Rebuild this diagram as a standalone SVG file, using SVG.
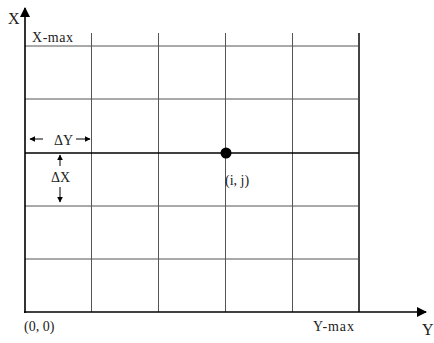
<svg xmlns="http://www.w3.org/2000/svg" width="434" height="343" viewBox="0 0 434 343">
<style>
text{font-family:"Liberation Serif","Times New Roman",serif;font-size:14px;fill:#222}
.big{font-size:16px}
.g{stroke:#555;stroke-width:1;fill:none}
.ax{stroke:#000;stroke-width:1.6;fill:none}
.sa{stroke:#000;stroke-width:1;fill:none}
</style>
<defs>
<marker id="ah" viewBox="0 0 10 10" refX="9" refY="5" markerWidth="10" markerHeight="10" markerUnits="userSpaceOnUse" orient="auto"><path d="M0,0 L10,5 L0,10 Z" fill="#000"/></marker>
<marker id="sh" viewBox="0 0 10 10" refX="9" refY="5" markerWidth="6" markerHeight="6" markerUnits="userSpaceOnUse" orient="auto"><path d="M0,0 L10,5 L0,10 Z" fill="#000"/></marker>
</defs>
<g id="grid">
<line class="g" x1="25" y1="46" x2="359" y2="46"/>
<line class="g" x1="25" y1="99" x2="359" y2="99"/>
<line class="g" x1="25" y1="206" x2="359" y2="206"/>
<line class="g" x1="25" y1="259" x2="359" y2="259"/>
<line class="g" x1="91.5" y1="33" x2="91.5" y2="312"/>
<line class="g" x1="158.5" y1="33" x2="158.5" y2="312"/>
<line class="g" x1="225.5" y1="33" x2="225.5" y2="312"/>
<line class="g" x1="292.5" y1="33" x2="292.5" y2="312"/>
<line x1="359" y1="33" x2="359" y2="312" stroke="#444" stroke-width="2"/>
<line x1="25" y1="153" x2="359" y2="153" stroke="#000" stroke-width="1.6"/>
</g>
<g id="axes">
<line class="ax" x1="25" y1="313" x2="25" y2="8" marker-end="url(#ah)"/>
<line class="ax" x1="24" y1="312" x2="426" y2="312" marker-end="url(#ah)"/>
</g>
<g id="spacing">
<line class="sa" x1="43" y1="139" x2="30" y2="139" marker-end="url(#sh)"/>
<line class="sa" x1="76" y1="139" x2="90" y2="139" marker-end="url(#sh)"/>
<line class="sa" x1="60" y1="166" x2="60" y2="155" marker-end="url(#sh)"/>
<line class="sa" x1="60" y1="187" x2="60" y2="202" marker-end="url(#sh)"/>
<text x="54" y="145">ΔY</text>
<text x="51" y="182">ΔX</text>
</g>
<g id="point">
<circle cx="226" cy="153" r="5.5" fill="#000"/>
<text x="225" y="185">(i, j)</text>
</g>
<g id="labels">
<text class="big" x="8" y="24">X</text>
<text x="32" y="42" textLength="41">X-max</text>
<text x="24" y="331">(0, 0)</text>
<text x="313" y="331" textLength="41">Y-max</text>
<text class="big" x="422" y="335">Y</text>
</g>
</svg>
